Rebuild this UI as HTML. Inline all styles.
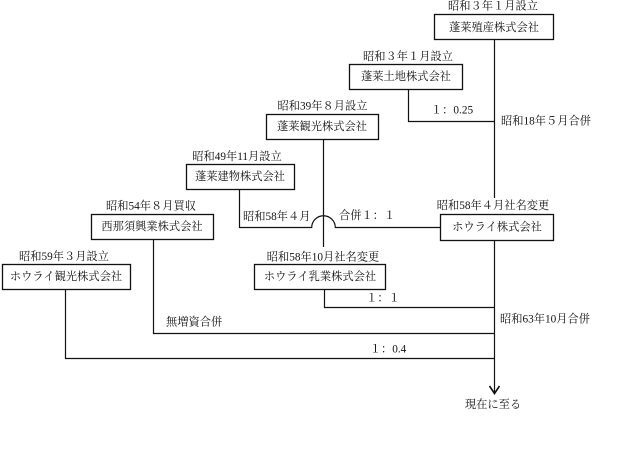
<!DOCTYPE html>
<html><head><meta charset="utf-8"><style>
html,body{margin:0;padding:0;background:#fff;}
svg{display:block;}
text{font-family:"Liberation Serif","Noto Serif CJK SC",serif;font-size:11.25px;fill:#111;dominant-baseline:central;}
.m{text-anchor:middle;}
rect{fill:#fff;stroke:#111;stroke-width:1.3;}
.l{fill:none;stroke:#111;stroke-width:1.2;}
</style></head><body>
<svg width="640" height="466" viewBox="0 0 640 466" xmlns="http://www.w3.org/2000/svg">
<!-- lines -->
<path class="l" d="M494.5 39 V198"/>
<path class="l" d="M494.5 240 V392"/>
<path class="l" d="M408.5 89 V121.5 H494.5"/>
<path class="l" d="M323.5 139 V247"/>
<path class="l" d="M239.5 189 V227.5 H311.7 A11.8 11.8 0 0 1 335.3 227.5 H440"/>
<path class="l" d="M324.5 289 V307.5 H494.5"/>
<path class="l" d="M153.5 239 V333.5 H494.5"/>
<path class="l" d="M65.5 289 V358.5 H494.5"/>
<polyline class="l" points="489.5,386 494.5,393.5 499.5,386" style="stroke-width:1.6"/>
<!-- boxes -->
<rect x="434.5" y="14.5" width="119" height="25"/>
<rect x="349.5" y="64.5" width="113" height="25"/>
<rect x="266.5" y="114.5" width="112" height="25"/>
<rect x="186.5" y="164.5" width="108" height="25"/>
<rect x="91.5" y="214.5" width="122" height="25"/>
<rect x="2.5" y="264.5" width="128" height="25"/>
<rect x="440.5" y="214.5" width="113" height="26"/>
<rect x="254.5" y="264.5" width="131" height="25"/>
<!-- box labels -->
<text class="m" x="494" y="28">蓬莱殖産株式会社</text>
<text class="m" x="406" y="77">蓬莱土地株式会社</text>
<text class="m" x="322" y="127">蓬莱観光株式会社</text>
<text class="m" x="240" y="177">蓬莱建物株式会社</text>
<text class="m" x="152" y="227">西那須興業株式会社</text>
<text class="m" x="66" y="277">ホウライ観光株式会社</text>
<text class="m" x="497" y="227.5">ホウライ株式会社</text>
<text class="m" x="320" y="277">ホウライ乳業株式会社</text>
<!-- date labels -->
<text class="m" x="493" y="6.5">昭和３年１月設立</text>
<text class="m" x="408" y="57">昭和３年１月設立</text>
<text class="m" x="322.5" y="106.5">昭和39年８月設立</text>
<text class="m" x="237" y="157">昭和49年11月設立</text>
<text class="m" x="151" y="206.5">昭和54年８月買収</text>
<text class="m" x="64" y="257">昭和59年３月設立</text>
<text class="m" x="493" y="206">昭和58年４月社名変更</text>
<text class="m" x="323" y="257.5">昭和58年10月社名変更</text>
<!-- connector labels -->
<text class="m" x="452" y="110.5">１：0.25</text>
<text x="501" y="121.5">昭和18年５月合併</text>
<text x="243" y="217">昭和58年４月</text>
<text x="339" y="216">合併１：１</text>
<text class="m" x="383" y="298.5">１：１</text>
<text x="166" y="322.5">無増資合併</text>
<text x="500" y="319.5">昭和63年10月合併</text>
<text class="m" x="388" y="349.5">１：0.4</text>
<text class="m" x="493" y="405">現在に至る</text>
</svg>
</body></html>
